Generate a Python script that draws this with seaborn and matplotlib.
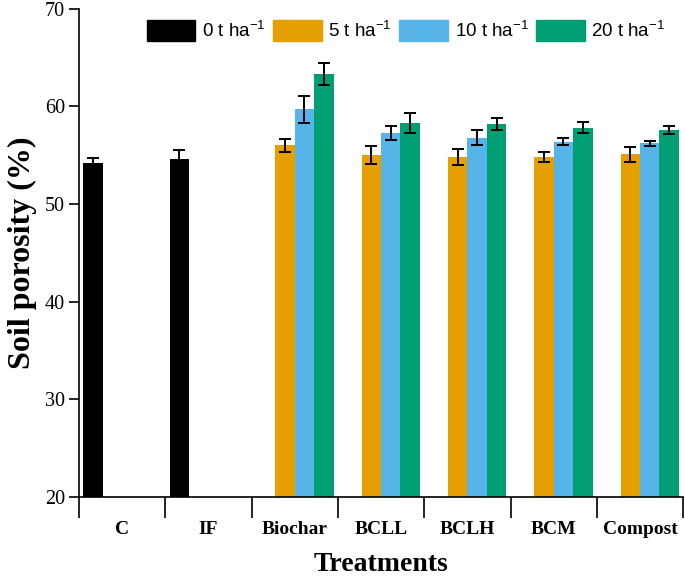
"""
Soil porosity by treatment and application rate - grouped bar chart.
"""

import matplotlib

matplotlib.use("Agg")
import matplotlib.pyplot as plt
import pandas as pd
import seaborn as sns
from matplotlib.ticker import FixedLocator, NullFormatter

# data
treatments = ["C", "IF", "Biochar", "BCLL", "BCLH", "BCM", "Compost"]
doses = ["0 t ha$^{-1}$", "5 t ha$^{-1}$", "10 t ha$^{-1}$", "20 t ha$^{-1}$"]
colors = ["#000000", "#E69F00", "#56B4E9", "#009E73"]

# control + inorganic fertiliser (0 t ha-1 only)
zero_treatments = ["C", "IF"]
zero_values = [54.2, 54.6]
zero_errors = [0.5, 0.9]

# amendments at 5, 10, 20 t ha-1
amend_treatments = ["Biochar", "BCLL", "BCLH", "BCM", "Compost"]
values_5 = [56.0, 55.0, 54.8, 54.8, 55.1]
values_10 = [59.7, 57.3, 56.8, 56.4, 56.2]
values_20 = [63.3, 58.3, 58.2, 57.8, 57.6]
errors_5 = [0.7, 0.9, 0.8, 0.5, 0.75]
errors_10 = [1.4, 0.7, 0.75, 0.4, 0.25]
errors_20 = [1.15, 1.05, 0.6, 0.55, 0.4]


def build_frame() -> pd.DataFrame:
    """Long table: one row per treatment x dose"""
    rows = []
    for t, v, e in zip(zero_treatments, zero_values, zero_errors):
        rows.append((t, doses[0], v, e))
    for dose, vals, errs in zip(doses[1:], [values_5, values_10, values_20],
                                [errors_5, errors_10, errors_20]):
        for t, v, e in zip(amend_treatments, vals, errs):
            rows.append((t, dose, v, e))
    df = pd.DataFrame(rows, columns=["treatment", "dose", "porosity", "err"])
    df["treatment"] = pd.Categorical(df["treatment"], treatments, ordered=True)
    return df.sort_values(["dose", "treatment"])


df = build_frame()

sns.set_style("ticks")
plt.rcParams["mathtext.default"] = "regular"
for key in ["text.color", "axes.labelcolor", "xtick.color", "ytick.color", "axes.edgecolor"]:
    plt.rcParams[key] = "black"

fig = plt.figure(figsize=(6.85, 5.8), dpi=100)
ax = fig.add_axes([0.1153, 0.143, 0.882, 0.842])

sns.barplot(data=df, x="treatment", y="porosity", hue="dose", order=treatments,
            hue_order=doses, palette=colors, saturation=1, width=0.9,
            errorbar=None, edgecolor="none", ax=ax, legend=False)

# error bars on top of each bar
for dose, container in zip(doses, ax.containers):
    sub = df[df["dose"] == dose].sort_values("treatment")
    for bar, err in zip(container, sub["err"]):
        xc = bar.get_x() + bar.get_width() / 2
        ax.errorbar(xc, bar.get_height(), yerr=err, color="black", lw=1.4,
                    capsize=4.5, capthick=1.4, zorder=5)

ax.set_ylim(20, 70)
ax.set_xlim(-0.5, len(treatments) - 0.5)
ax.set_yticks([20, 30, 40, 50, 60, 70])

# boundary ticks between groups, labels centred (minor)
ax.xaxis.set_major_locator(FixedLocator([i - 0.5 for i in range(len(treatments) + 1)]))
ax.xaxis.set_major_formatter(NullFormatter())
ax.xaxis.set_minor_locator(FixedLocator(range(len(treatments))))
ax.set_xticklabels(treatments, minor=True)
ax.tick_params(axis="x", which="major", length=15, width=1.2, direction="out")
ax.tick_params(axis="x", which="minor", length=0, pad=17)
ax.tick_params(axis="y", length=7, width=1.2, direction="out", pad=3)

for lbl in ax.get_xticklabels(minor=True):
    lbl.set_fontfamily("Liberation Serif")
    lbl.set_fontweight("bold")
    lbl.set_fontsize(14)
for lbl in ax.get_yticklabels():
    lbl.set_fontfamily("Liberation Serif")
    lbl.set_fontsize(14.5)

ax.set_xlabel("Treatments", fontfamily="Liberation Serif", fontweight="bold",
              fontsize=20, labelpad=10)
ax.set_ylabel("Soil porosity (%)", fontfamily="Liberation Serif", fontweight="bold",
              fontsize=23, labelpad=6)

sns.despine(ax=ax)
for side in ["left", "bottom"]:
    ax.spines[side].set_linewidth(1.2)

handles = [plt.Rectangle((0, 0), 1, 1, color=c) for c in colors]
ax.legend(handles, doses, ncol=4, frameon=False, loc="upper left",
          bbox_to_anchor=(0.112, 0.976), handlelength=2.6, handleheight=1.3,
          handletextpad=0.35, columnspacing=0.4, borderaxespad=0, borderpad=0,
          prop={"family": "Liberation Sans", "size": 13.5})

fig.savefig("out.png", dpi=100)
